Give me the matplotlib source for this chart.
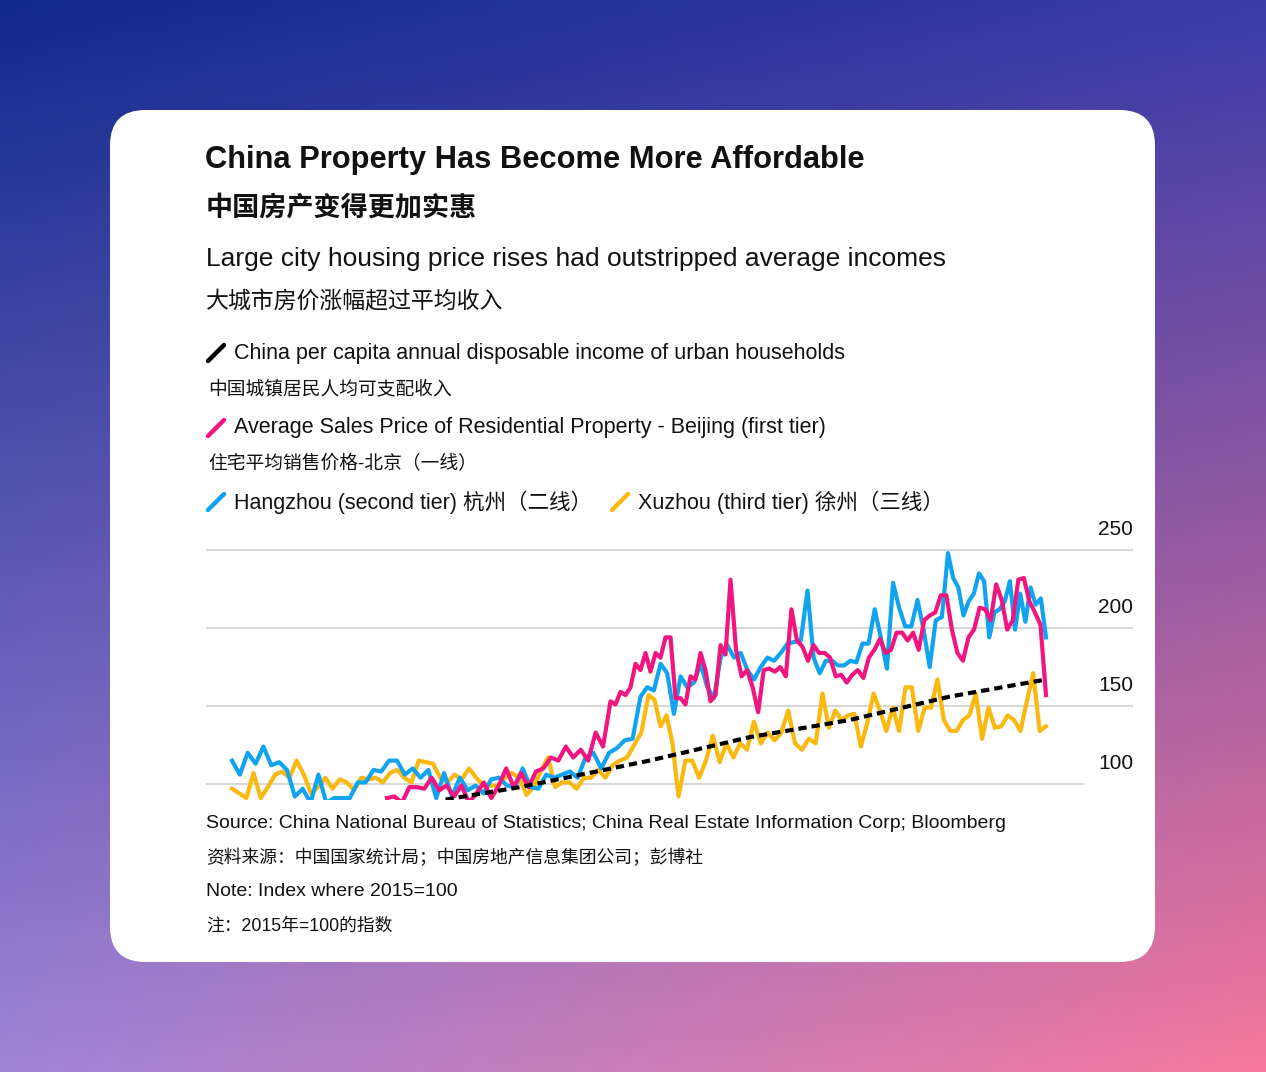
import numpy as np
import matplotlib
matplotlib.use("Agg")
import matplotlib.pyplot as plt
from matplotlib.patches import FancyBboxPatch
from matplotlib.lines import Line2D

plt.rcParams["font.family"] = ["Liberation Sans", "Noto Sans CJK SC"]

# values (index, 2015=100); x in months from start of series window
hangzhou = [115,106,120,113,124,112,114,109,92,97,88,106,88,91,91,91,101,101,109,108,115,115,106,110,104,109,91,107,92,104,96,99,94,103,104,99,98,110,98,97,106,104,106,108,104,117,120,110,120,123,128,129,156,162,160,177,171,145,169,162,165,177,162,155,181,189,181,184,173,167,175,181,179,184,190,191,192,224,181,171,179,179,176,176,179,178,190,190,212,194,174,229,213,201,201,218,199,175,205,207,248,232,226,208,217,222,235,230,194,210,212,217,230,199,222,204,226,215,219,194]
hangzhou_anchor_idx = [0, 52, 77, 100, 119]
hangzhou_anchor_month = [0, 81.7, 115.1, 143.2, 162.8]

beijing = [91,92,88,98,98,97,104,96,99,92,99,88,94,101,91,99,110,98,107,98,108,110,117,115,124,117,122,115,133,124,153,151,159,157,162,177,173,184,172,184,181,194,194,155,155,151,169,167,184,173,153,157,189,183,231,186,169,173,162,146,173,174,172,175,169,212,192,188,179,189,184,184,181,169,170,165,170,173,168,181,186,193,184,186,197,197,192,197,186,205,208,210,221,221,199,184,179,194,199,213,212,205,228,218,199,205,231,232,217,210,202,157]
beijing_anchor_idx = [0, 30, 54, 111]
beijing_anchor_month = [31.0, 75.7, 99.7, 162.8]

xuzhou = [97,94,91,107,91,98,106,108,104,115,106,94,98,104,97,103,101,96,104,103,104,101,107,109,104,101,115,114,113,104,101,106,103,110,104,99,99,99,104,107,104,93,98,108,117,98,101,101,97,104,104,109,104,112,115,117,125,133,157,154,137,144,126,92,115,115,104,115,131,114,126,117,126,122,140,126,133,128,133,147,126,122,129,126,158,136,147,141,144,145,124,139,158,147,134,149,134,162,162,134,149,149,167,141,134,134,141,144,158,129,149,136,137,144,141,134,153,171,134,137]
xuzhou_anchor_idx = [0, 58, 63, 84, 119]
xuzhou_anchor_month = [0, 83.3, 89.3, 118.1, 162.8]

income = [90, 98, 115, 130, 141, 156, 167]
income_month = [42.7, 57.6, 83.5, 103.5, 123.5, 143.5, 162.8]

ticks = [100, 150, 200, 250]

W, H = 1266, 1072
fig = plt.figure(figsize=(W/100, H/100), dpi=100)

bg = fig.add_axes([0, 0, 1, 1]); bg.axis("off")
tl = np.array([0x10, 0x2a, 0x8c]) / 255; tr = np.array([0x3a, 0x3c, 0xa8]) / 255
bl = np.array([0xa0, 0x84, 0xd8]) / 255; br = np.array([0xf5, 0x78, 0x9c]) / 255
u = np.linspace(0, 1, 200)[None, :, None]; v = np.linspace(0, 1, 200)[:, None, None]
img = (1-v)*((1-u)*tl + u*tr) + v*((1-u)*bl + u*br)
bg.imshow(img, aspect="auto", extent=[0, 1, 0, 1])
bg.set_xlim(0, 1); bg.set_ylim(0, 1)

def fx(p): return p / W
def fy(p): return 1 - p / H

card = FancyBboxPatch((fx(110), fy(962)), fx(1155)-fx(110), fy(110)-fy(962),
                      boxstyle="round,pad=0,rounding_size=0.028", transform=fig.transFigure,
                      facecolor="white", edgecolor="none", mutation_aspect=W/H, zorder=1)
fig.patches.append(card)

def T(x, y, s, size, weight="normal", color="#111111"):
    fig.text(fx(x), fy(y), s, fontsize=size, fontweight=weight, color=color, va="center", ha="left", zorder=5)

T(205, 160, "China Property Has Become More Affordable", 22.2, "bold")
T(206, 208, "中国房产变得更加实惠", 19.5, "bold")
T(206, 259, "Large city housing price rises had outstripped average incomes", 19)
T(206, 302, "大城市房价涨幅超过平均收入", 16.5)

def icon(x, y, c):
    fig.lines.append(Line2D([fx(x), fx(x+16)], [fy(y+8), fy(y-8)], transform=fig.transFigure,
                            color=c, lw=3.2, solid_capstyle="round", zorder=5))

L = 15.5
icon(208, 353, "#000000"); T(234, 353, "China per capita annual disposable income of urban households", L)
T(208, 389, "中国城镇居民人均可支配收入", 13.5)
icon(208, 428, "#f0157f"); T(234, 428, "Average Sales Price of Residential Property - Beijing (first tier)", L)
T(208, 464, "住宅平均销售价格-北京（一线）", 13.5)
icon(208, 502, "#10a3f0"); T(234, 502, "Hangzhou (second tier) 杭州（二线）", L)
icon(612, 502, "#fbb80f"); T(638, 502, "Xuzhou (third tier) 徐州（三线）", L)

S = 14
T(206, 823, "Source: China National Bureau of Statistics; China Real Estate Information Corp; Bloomberg", S)
T(206, 858, "资料来源：中国国家统计局；中国房地产信息集团公司；彭博社", 12.8)
T(206, 892, "Note: Index where 2015=100", S)
T(206, 926, "注：2015年=100的指数", 12.8)

ax = fig.add_axes([fx(206), fy(800), fx(1133)-fx(206), fy(530)-fy(800)])
ax.set_zorder(3); ax.patch.set_alpha(0)
M = 162.8
span = 1046 - 232
ax.set_xlim(-26/span*M, (1 + 87/span)*M)
ax.set_ylim(100 - 16/78*50, 250 + 20/78*50)
for s in ax.spines.values(): s.set_visible(False)
ax.set_xticks([]); ax.set_yticks([])
for t in ticks:
    xmax = 1 if t != 100 else (1083-206)/(1133-206)
    ax.axhline(t, xmin=0, xmax=xmax, color="#d9d9d9", lw=1.5, zorder=1)
    ax.text((1 + 87/span)*M, t + 7, str(t), ha="right", va="bottom", fontsize=15, color="#111111")

def xs(vals, ai, am):
    return np.interp(np.arange(len(vals)), ai, am)

ax.plot(xs(hangzhou, hangzhou_anchor_idx, hangzhou_anchor_month), hangzhou, color="#10a3f0", lw=3, zorder=3)
ax.plot(xs(xuzhou, xuzhou_anchor_idx, xuzhou_anchor_month), xuzhou, color="#fbb80f", lw=3, zorder=2)
ax.plot(xs(beijing, beijing_anchor_idx, beijing_anchor_month), beijing, color="#f0157f", lw=3, zorder=4)
ax.plot(income_month, income, color="black", lw=3, ls=(0, (2, 1.2)), zorder=5)

fig.savefig("out.png", dpi=100)
